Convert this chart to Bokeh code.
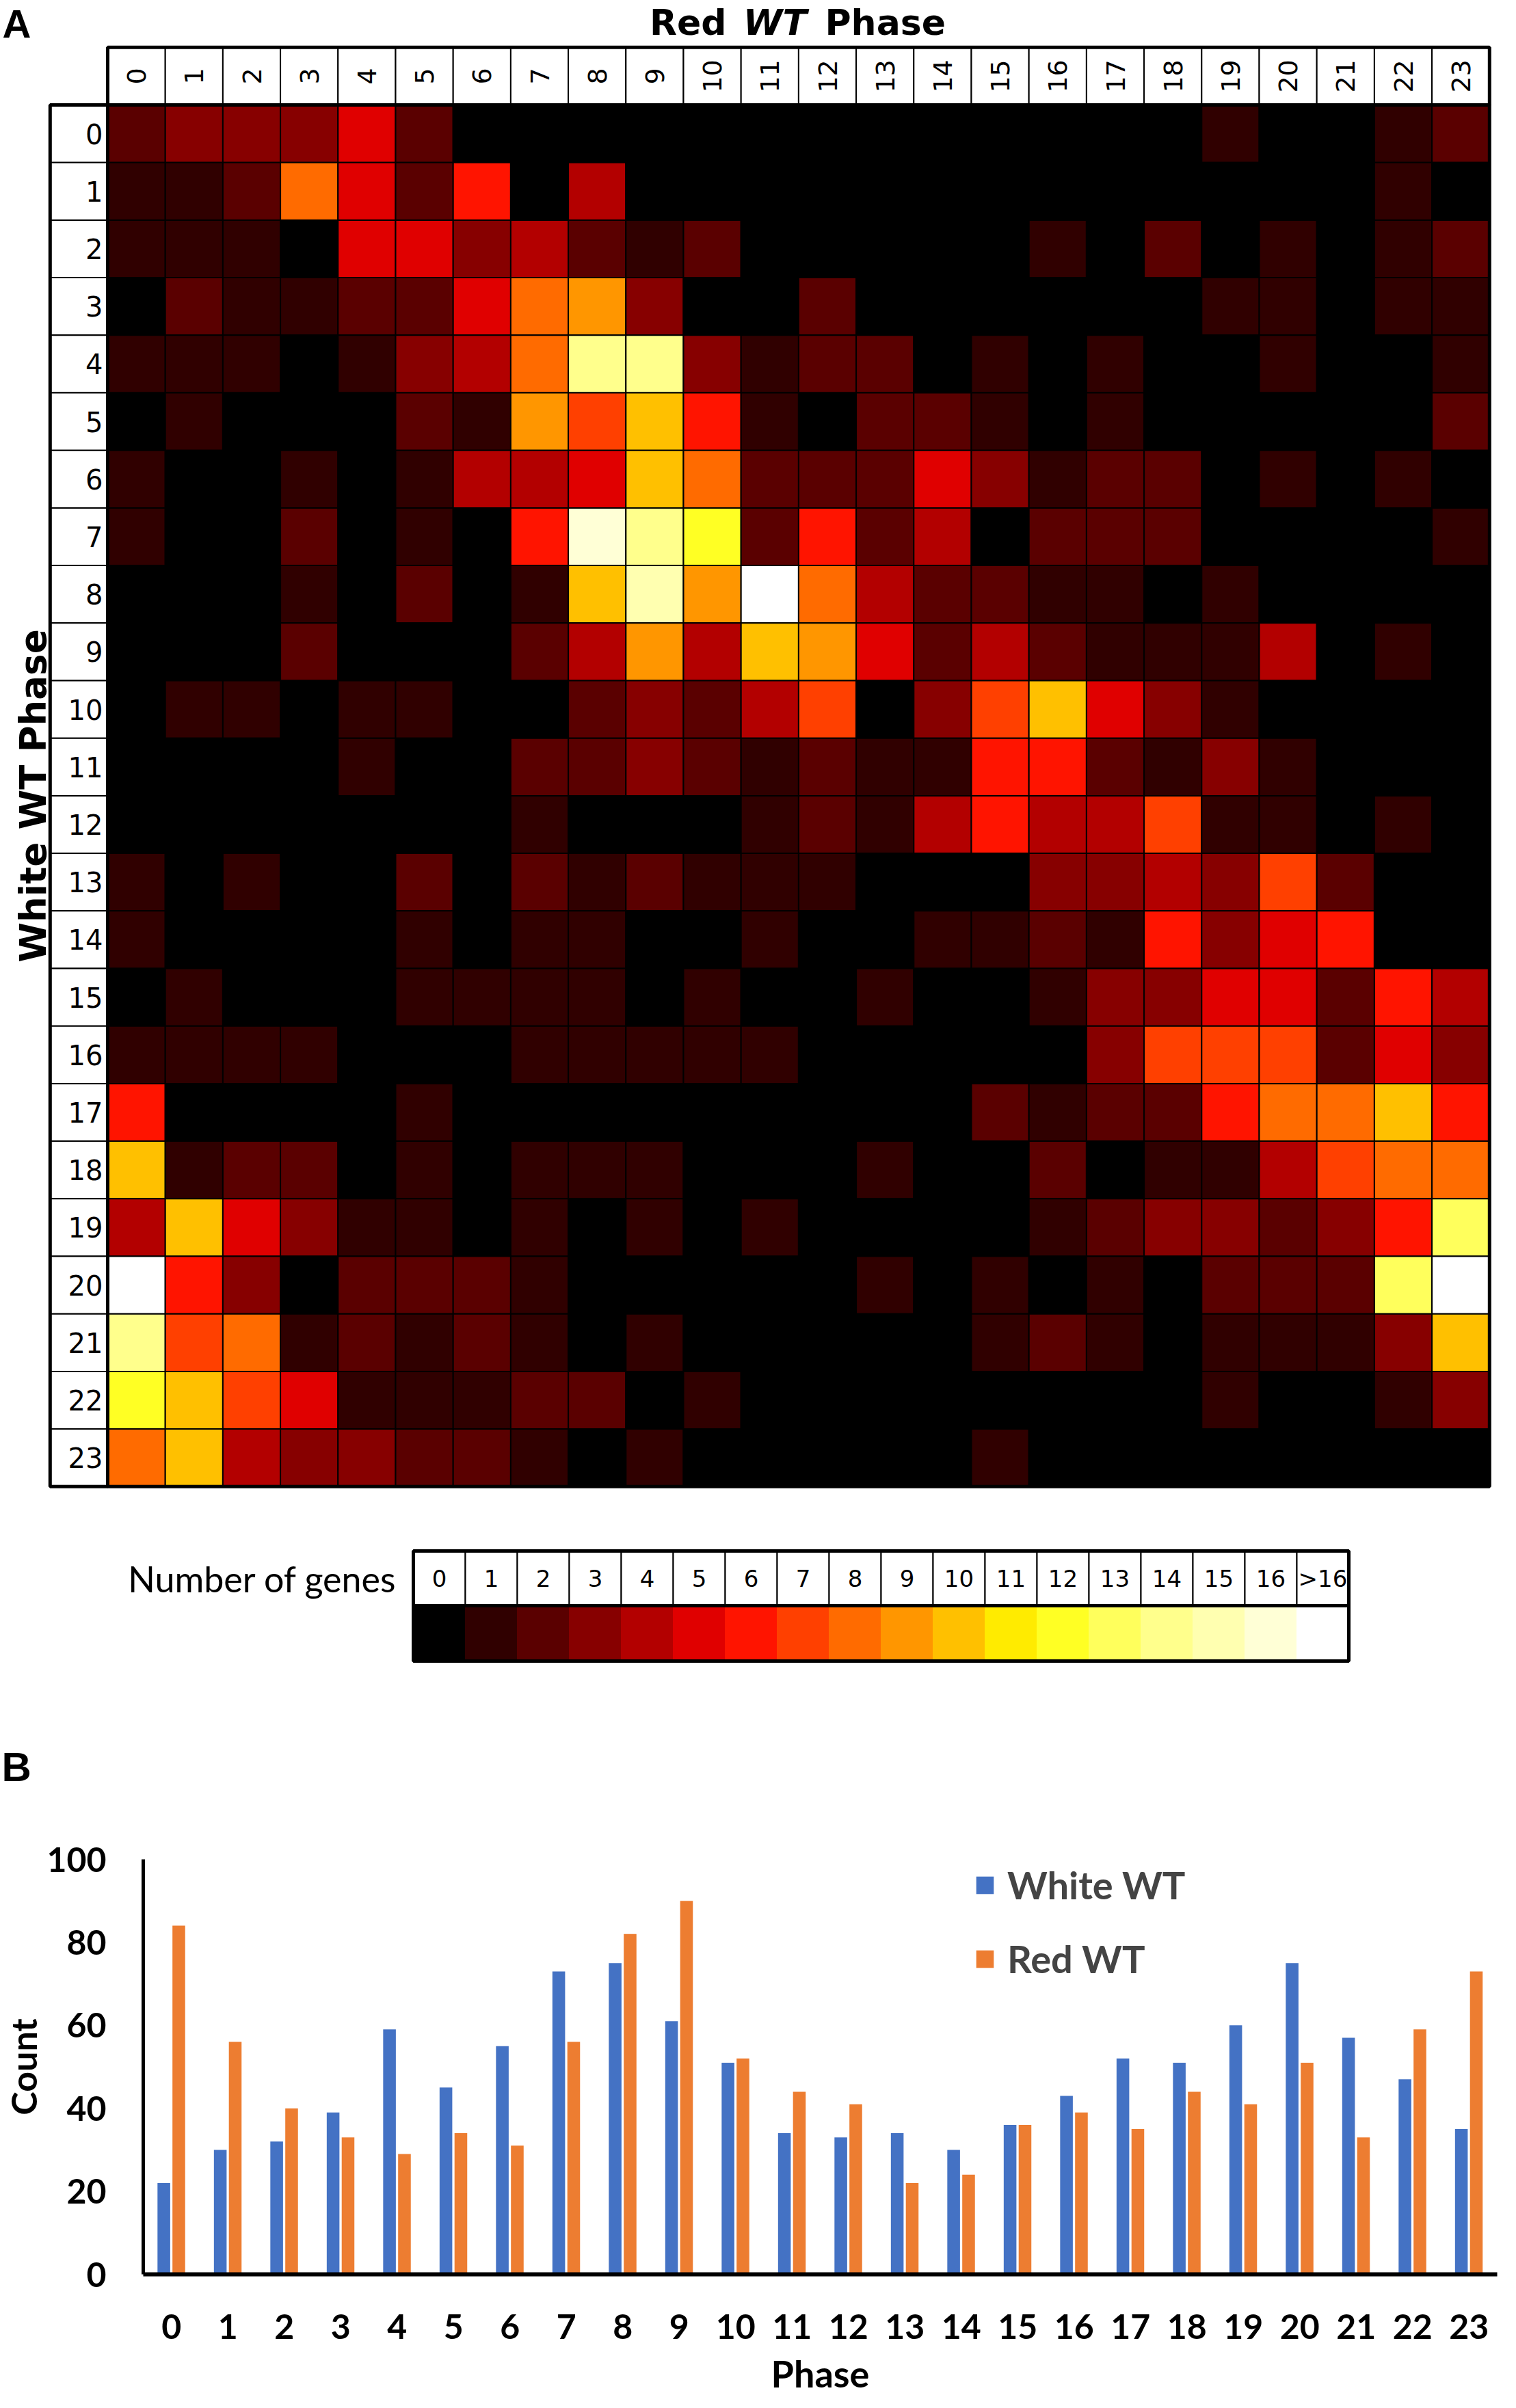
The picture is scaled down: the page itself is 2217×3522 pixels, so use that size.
import numpy as np
from bokeh.plotting import figure
from bokeh.models import (ColumnDataSource, Range1d, LinearColorMapper, Legend,
                          LegendItem, FactorRange, FixedTicker, Label)
from bokeh.transform import dodge, transform
from bokeh.embed import file_html
from bokeh.resources import INLINE
from bokeh.core.properties import value

# ---------------- data ----------------
phases = [str(i) for i in range(24)]

# rows = White WT phase, columns = Red WT phase (number of genes; >16 stored as its count)
gene_counts = [
    [2, 3, 3, 3, 5, 2, 0, 0, 0, 0, 0, 0, 0, 0, 0, 0, 0, 0, 0, 1, 0, 0, 1, 2],
    [1, 1, 2, 8, 5, 2, 6, 0, 4, 0, 0, 0, 0, 0, 0, 0, 0, 0, 0, 0, 0, 0, 1, 0],
    [1, 1, 1, 0, 5, 5, 3, 4, 2, 1, 2, 0, 0, 0, 0, 0, 1, 0, 2, 0, 1, 0, 1, 2],
    [0, 2, 1, 1, 2, 2, 5, 8, 9, 3, 0, 0, 2, 0, 0, 0, 0, 0, 0, 1, 1, 0, 1, 1],
    [1, 1, 1, 0, 1, 3, 4, 8, 14, 14, 3, 1, 2, 2, 0, 1, 0, 1, 0, 0, 1, 0, 0, 1],
    [0, 1, 0, 0, 0, 2, 1, 9, 7, 10, 6, 1, 0, 2, 2, 1, 0, 1, 0, 0, 0, 0, 0, 2],
    [1, 0, 0, 1, 0, 1, 4, 4, 5, 10, 8, 2, 2, 2, 5, 3, 1, 2, 2, 0, 1, 0, 1, 0],
    [1, 0, 0, 2, 0, 1, 0, 6, 16, 14, 12, 2, 6, 2, 4, 0, 2, 2, 2, 0, 0, 0, 0, 1],
    [0, 0, 0, 1, 0, 2, 0, 1, 10, 15, 9, 18, 8, 4, 2, 2, 1, 1, 0, 1, 0, 0, 0, 0],
    [0, 0, 0, 2, 0, 0, 0, 2, 4, 9, 4, 10, 9, 5, 2, 4, 2, 1, 1, 1, 4, 0, 1, 0],
    [0, 1, 1, 0, 1, 1, 0, 0, 2, 3, 2, 4, 7, 0, 3, 7, 10, 5, 3, 1, 0, 0, 0, 0],
    [0, 0, 0, 0, 1, 0, 0, 2, 2, 3, 2, 1, 2, 1, 1, 6, 6, 2, 1, 3, 1, 0, 0, 0],
    [0, 0, 0, 0, 0, 0, 0, 1, 0, 0, 0, 1, 2, 1, 4, 6, 4, 4, 7, 1, 1, 0, 1, 0],
    [1, 0, 1, 0, 0, 2, 0, 2, 1, 2, 1, 1, 1, 0, 0, 0, 3, 3, 4, 3, 7, 2, 0, 0],
    [1, 0, 0, 0, 0, 1, 0, 1, 1, 0, 0, 1, 0, 0, 1, 1, 2, 1, 6, 3, 5, 6, 0, 0],
    [0, 1, 0, 0, 0, 1, 1, 1, 1, 0, 1, 0, 0, 1, 0, 0, 1, 3, 3, 5, 5, 2, 6, 4],
    [1, 1, 1, 1, 0, 0, 0, 1, 1, 1, 1, 1, 0, 0, 0, 0, 0, 3, 7, 7, 7, 2, 5, 3],
    [6, 0, 0, 0, 0, 1, 0, 0, 0, 0, 0, 0, 0, 0, 0, 2, 1, 2, 2, 6, 8, 8, 10, 6],
    [10, 1, 2, 2, 0, 1, 0, 1, 1, 1, 0, 0, 0, 1, 0, 0, 2, 0, 1, 1, 4, 7, 8, 8],
    [4, 10, 5, 3, 1, 1, 0, 1, 0, 1, 0, 1, 0, 0, 0, 0, 1, 2, 3, 3, 2, 3, 6, 13],
    [20, 6, 3, 0, 2, 2, 2, 1, 0, 0, 0, 0, 0, 1, 0, 1, 0, 1, 0, 2, 2, 2, 13, 17],
    [14, 7, 8, 1, 2, 1, 2, 1, 0, 1, 0, 0, 0, 0, 0, 1, 2, 1, 0, 1, 1, 1, 3, 10],
    [12, 10, 7, 5, 1, 1, 1, 2, 2, 0, 1, 0, 0, 0, 0, 0, 0, 0, 0, 1, 0, 0, 1, 3],
    [8, 10, 4, 3, 3, 2, 2, 1, 0, 1, 0, 0, 0, 0, 0, 1, 0, 0, 0, 0, 0, 0, 0, 0],
]

white_wt = [22, 30, 32, 39, 59, 45, 55, 73, 75, 61, 51, 34, 33, 34, 30, 36, 43, 52, 51, 60, 75, 57, 47, 35]
red_wt = [84, 56, 40, 33, 29, 34, 31, 56, 82, 90, 52, 44, 41, 22, 24, 36, 39, 35, 44, 41, 51, 33, 59, 73]

scale_labels = [str(i) for i in range(17)] + [">16"]
scale_values = list(range(18))
palette = ["#000000", "#300000", "#5a0000", "#870000", "#b30000", "#e00000",
           "#ff1400", "#ff4000", "#ff6b00", "#ff9600", "#ffc000", "#ffeb00",
           "#ffff24", "#ffff5c", "#ffff8c", "#ffffb0", "#ffffd6"]

# ---------------- geometry (reference pixels; page starts 8px in) ----------------
OFF = 8              # page margin
PW, PH = 2201, 3506  # available page area
C = 84.2             # size of one heatmap cell
X0, Y0 = 165, 161    # top-left of the heatmap grid
HA = 2632            # height of panel A figure
HB = PH - HA
N = len(phases)


def fs(v):
    return f"{v}px"


mapper = LinearColorMapper(palette=palette, low=-0.5, high=16.5, high_color="#ffffff")

# ---------------- panel A ----------------
pa = figure(width=PW, height=HA,
            x_range=Range1d((OFF - X0) / C, (OFF + PW - X0) / C),
            y_range=Range1d((OFF + HA - Y0) / C, (OFF - Y0) / C),
            output_backend="svg", toolbar_location=None, min_border=0,
            x_axis_location=None, y_axis_location=None)
pa.grid.visible = False
pa.outline_line_color = None

cx, cy, cv = [], [], []
for r, row in enumerate(gene_counts):
    for c, v in enumerate(row):
        cx.append(c + 0.5)
        cy.append(r + 0.5)
        cv.append(v)
heat = ColumnDataSource(dict(x=cx, y=cy, v=cv))
pa.rect(x="x", y="y", width=1, height=1, source=heat,
        fill_color=transform("v", mapper), line_color="#000000", line_width=2)

centers = [i + 0.5 for i in range(N)]
hdr = ColumnDataSource(dict(x=centers, y=[-0.5] * N, t=phases))
pa.rect(x="x", y="y", width=1, height=1, source=hdr, fill_color="white",
        line_color="black", line_width=2)
pa.text(x="x", y="y", text="t", source=hdr, angle=np.pi / 2, text_align="center",
        text_baseline="middle", text_font=value("DejaVu Sans"), text_font_size=fs(38),
        text_color="black")

rows = ColumnDataSource(dict(x=[-0.5] * N, y=centers, tx=[-7 / C] * N, t=phases))
pa.rect(x="x", y="y", width=1, height=1, source=rows, fill_color="white",
        line_color="black", line_width=2)
pa.text(x="tx", y="y", text="t", source=rows, text_align="right",
        text_baseline="middle", text_font=value("DejaVu Sans"), text_font_size=fs(40),
        text_color="black")

pa.quad(left=[0, -1, 0], right=[N, 0, N], top=[-1, 0, 0], bottom=[0, N, N],
        fill_color=None, line_color="black", line_width=5)

# titles
ty = (40 - Y0) / C
pa.text(x=[(1070 - X0) / C], y=[ty], text=["Red"], text_align="right", text_baseline="middle",
        text_font=value("DejaVu Sans"), text_font_style="bold", text_font_size=fs(52))
pa.text(x=[(1141 - X0) / C], y=[ty], text=["WT"], text_align="center", text_baseline="middle",
        text_font=value("DejaVu Sans"), text_font_style="bold italic", text_font_size=fs(52))
pa.text(x=[(1214 - X0) / C], y=[ty], text=["Phase"], text_align="left", text_baseline="middle",
        text_font=value("DejaVu Sans"), text_font_style="bold", text_font_size=fs(52))
pa.add_layout(Label(x=(56 - X0) / C, y=N / 2, text="White WT Phase", angle=np.pi / 2,
                    text_align="center", text_baseline="middle",
                    text_font="DejaVu Sans", text_font_style="bold",
                    text_font_size=fs(53), text_color="black"))

# panel letters
pa.text(x=[(11 - X0) / C], y=[(42 - Y0) / C], text=["A"], text_align="left",
        text_baseline="middle", text_font=value("Liberation Sans"),
        text_font_style="bold", text_font_size=fs(58))
pa.text(x=[(10 - X0) / C], y=[(2592 - Y0) / C], text=["B"], text_align="left",
        text_baseline="middle", text_font=value("Liberation Sans"),
        text_font_style="bold", text_font_size=fs(60))

# colour scale legend
LX0 = (612 - X0) / C
LW = 76 / C
NL = len(scale_values)
top_num, mid, bot = (2276 - Y0) / C, (2356 - Y0) / C, (2437 - Y0) / C
leg = ColumnDataSource(dict(
    x=[LX0 + (i + 0.5) * LW for i in range(NL)],
    yn=[(top_num + mid) / 2] * NL, yc=[(mid + bot) / 2] * NL,
    v=scale_values, t=scale_labels))
pa.rect(x="x", y="yn", width=LW, height=mid - top_num, source=leg, fill_color="white",
        line_color="black", line_width=2)
pa.rect(x="x", y="yc", width=LW, height=bot - mid, source=leg,
        fill_color=transform("v", mapper), line_color=transform("v", mapper), line_width=1)
pa.text(x="x", y="yn", text="t", source=leg, text_align="center", text_baseline="middle",
        text_font=value("DejaVu Sans"), text_font_size=fs(34), text_color="black")
pa.quad(left=[LX0], right=[LX0 + NL * LW], top=[top_num], bottom=[bot],
        fill_color=None, line_color="black", line_width=5)
pa.segment(x0=[LX0], x1=[LX0 + NL * LW], y0=[mid], y1=[mid], line_color="black",
           line_width=5)
pa.text(x=[(588 - X0) / C], y=[(top_num + mid) / 2], text=["Number of genes"],
        text_align="right", text_baseline="middle", text_font=value("Lato"),
        text_font_size=fs(52), text_color="black")

# ---------------- panel B ----------------
B_TOP = OFF + HA                # reference y where panel B figure begins
pb = figure(width=PW, height=HB,
            x_range=FactorRange(*phases), y_range=Range1d(0, 100),
            output_backend="svg", toolbar_location=None,
            min_border_left=205 - OFF, min_border_right=OFF + PW - 2197,
            min_border_top=2727 - B_TOP, min_border_bottom=B_TOP + HB - 3334)
pb.grid.visible = False
pb.outline_line_color = None

bars = ColumnDataSource(dict(phase=phases, white=white_wt, red=red_wt))
r_white = pb.vbar(x=dodge("phase", -0.135, range=pb.x_range), top="white", width=0.225,
                  source=bars, fill_color="#4472C4", line_color=None)
r_red = pb.vbar(x=dodge("phase", 0.13, range=pb.x_range), top="red", width=0.225,
                source=bars, fill_color="#ED7D31", line_color=None)

for ax in (pb.xaxis[0], pb.yaxis[0]):
    ax.major_tick_line_color = None
    ax.minor_tick_line_color = None
    ax.axis_line_color = "black"
    ax.major_label_text_font = "Lato"
    ax.major_label_text_font_style = "bold"
    ax.major_label_text_font_size = fs(50)
    ax.major_label_text_color = "black"
    ax.axis_label_text_font = "Lato"
    ax.axis_label_text_font_style = "bold"
    ax.axis_label_text_color = "black"

pb.xaxis.axis_line_width = 6
pb.xaxis.major_label_standoff = 52
pb.xaxis.axis_label = "Phase"
pb.xaxis.axis_label_text_font_size = fs(54)
pb.xaxis.axis_label_standoff = 15

pb.yaxis.axis_line_width = 5
pb.yaxis.ticker = FixedTicker(ticks=[0, 20, 40, 60, 80, 100])
pb.yaxis.major_label_standoff = 48
pb.yaxis.axis_label = "Count"
pb.yaxis.axis_label_text_font_size = fs(52)
pb.yaxis.axis_label_standoff = 0

legend = Legend(items=[LegendItem(label="White WT", renderers=[r_white]),
                       LegendItem(label="Red WT", renderers=[r_red])],
                location=(1420 - 205, 428),
                glyph_width=32, glyph_height=32,
                label_text_font="Lato", label_text_font_style="bold",
                label_text_font_size=fs(56), label_standoff=17,
                label_height=67, spacing=41,
                padding=0, margin=0, border_line_color=None,
                background_fill_alpha=0)
pb.add_layout(legend)

# two separate roots stacked on the page (avoids frame alignment between panels)
open("out.html", "w").write(file_html([pa, pb], INLINE))
